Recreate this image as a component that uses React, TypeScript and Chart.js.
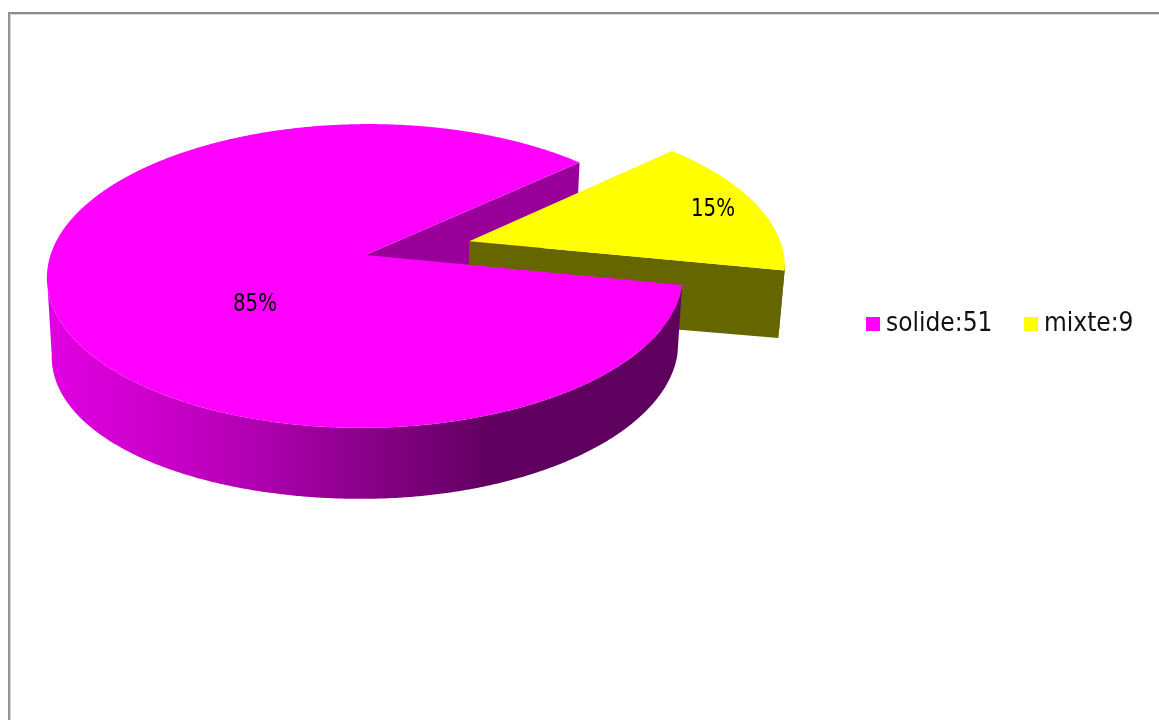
import React, { useEffect, useRef } from "react";
import { Chart, registerables } from "chart.js";

Chart.register(...registerables);

const categories = ["solide", "mixte"];
const counts = [51, 9];
const sliceColors = ["#ff00ff", "#ffff00"];
const cutFaceColors = ["#990099", "#666600"];
const percentLabels = ["85%", "15%"];
const FONT = '"DejaVu Sans Condensed", "DejaVu Sans", sans-serif';

// Perspective model of the tilted disc: the library supplies the slice angles,
// these constants turn them into screen positions.
const VIEW = {
  originX: 365.5,
  originY: 255,
  radius: 315,
  squash: 149,
  perspective: 0.138,
  shear: -0.012,
  depth: 71,
  leftSag: 8,
  rightEase: 2,
  taper: 0.015,
};

function project(wx: number, wy: number, wz: number) {
  const s = 1 / (1 - VIEW.perspective * wy);
  const t = 1 - VIEW.taper * wz;
  const sag = wx < 0 ? VIEW.leftSag * wx * wx : -VIEW.rightEase * wx * wx;
  return {
    x: VIEW.originX + VIEW.radius * (wx + VIEW.shear * wy) * s * t,
    y: VIEW.originY + VIEW.squash * wy * s + (VIEW.depth + sag) * wz,
  };
}

type Geometry = { start: number; end: number; ox: number; oy: number };

function rimPoints(g: Geometry, z: number, start = g.start, end = g.end) {
  const pts: { x: number; y: number }[] = [];
  const steps = Math.max(2, Math.ceil((end - start) / 0.006));
  for (let i = 0; i <= steps; i++) {
    const a = start + ((end - start) * i) / steps;
    pts.push(project(g.ox + Math.cos(a), g.oy + Math.sin(a), z));
  }
  return pts;
}

function fillPolygon(ctx: CanvasRenderingContext2D, pts: { x: number; y: number }[], fill: string | CanvasGradient) {
  ctx.beginPath();
  pts.forEach((p, i) => (i ? ctx.lineTo(p.x, p.y) : ctx.moveTo(p.x, p.y)));
  ctx.closePath();
  ctx.fillStyle = fill;
  ctx.fill();
}

function cutFace(ctx: CanvasRenderingContext2D, g: Geometry, angle: number, fill: string) {
  const ex = g.ox + Math.cos(angle);
  const ey = g.oy + Math.sin(angle);
  fillPolygon(
    ctx,
    [project(g.ox, g.oy, 0), project(ex, ey, 0), project(ex, ey, 1), project(g.ox, g.oy, 1)],
    fill,
  );
}

// Only the part of the rim that faces the viewer is drawn: it runs between the
// right and left silhouette points of the projected circle. Slice angles can
// run past a full turn, so both turns are tested.
function rimWall(ctx: CanvasRenderingContext2D, g: Geometry, fill: string | CanvasGradient) {
  const edge = Math.asin(VIEW.perspective);
  [0, 2 * Math.PI].forEach((turn) => {
    const start = Math.max(g.start, edge + turn);
    const end = Math.min(g.end, Math.PI - edge + turn);
    if (start < end) {
      fillPolygon(ctx, [...rimPoints(g, 0, start, end), ...rimPoints(g, 1, start, end).reverse()], fill);
    }
  });
}

function topFace(ctx: CanvasRenderingContext2D, g: Geometry, fill: string) {
  fillPolygon(ctx, [project(g.ox, g.oy, 0), ...rimPoints(g, 0)], fill);
}

const pie3d = {
  id: "pie3d",
  beforeDatasetsDraw(chart: any) {
    const ctx: CanvasRenderingContext2D = chart.ctx;
    const arcs = chart.getDatasetMeta(0).data;
    const geometry: Geometry[] = arcs.map((arc: any) => {
      const mid = (arc.startAngle + arc.endAngle) / 2;
      const pull = (arc.options.offset || 0) / arc.outerRadius;
      return { start: arc.startAngle, end: arc.endAngle, ox: Math.cos(mid) * pull, oy: Math.sin(mid) * pull };
    });

    const wall = ctx.createLinearGradient(46, 0, 682, 0);
    wall.addColorStop(0, "#e200e2");
    wall.addColorStop(0.25, "#c000c0");
    wall.addColorStop(0.5, "#8a008a");
    wall.addColorStop(0.7, "#600060");
    wall.addColorStop(1, "#5e005e");

    const [solid, mixed] = geometry;
    const colors = arcs.map((arc: any) => arc.options.backgroundColor);

    // Painter's order: the far cut of the large slice, the pulled-out slice, then the large slice.
    cutFace(ctx, solid, solid.end, cutFaceColors[0]);
    rimWall(ctx, mixed, cutFaceColors[1]);
    cutFace(ctx, mixed, mixed.end, cutFaceColors[1]);
    topFace(ctx, mixed, colors[1]);
    rimWall(ctx, solid, wall);
    topFace(ctx, solid, colors[0]);
    return false;
  },
  afterDraw(chart: any) {
    const ctx: CanvasRenderingContext2D = chart.ctx;
    const arcs = chart.getDatasetMeta(0).data;
    ctx.save();
    ctx.textBaseline = "middle";
    ctx.font = `25px ${FONT}`;
    ctx.textAlign = "center";
    ctx.fillStyle = "#000000";
    const anchors = [
      { x: 255, y: 304 },
      { x: 713, y: 209 },
    ];
    percentLabels.forEach((text, i) => {
      ctx.save();
      ctx.translate(anchors[i].x, anchors[i].y);
      ctx.scale(0.88, 1);
      ctx.fillText(text, 0, 0);
      ctx.restore();
    });

    // Legend row
    ctx.textAlign = "left";
    ctx.font = `26px ${FONT}`;
    const keys = [866, 1024];
    categories.forEach((name, i) => {
      ctx.fillStyle = arcs[i].options.backgroundColor;
      ctx.fillRect(keys[i], 317, 14, 14);
      ctx.fillStyle = "#111111";
      ctx.fillText(`${name}:${counts[i]}`, keys[i] + 20, 324);
    });
    ctx.restore();
  },
};

export default function App() {
  const canvasRef = useRef<HTMLCanvasElement | null>(null);

  useEffect(() => {
    const chart = new Chart(canvasRef.current as HTMLCanvasElement, {
      type: "pie",
      data: {
        labels: categories,
        datasets: [
          {
            data: counts,
            backgroundColor: sliceColors,
            borderWidth: 0,
            offset: [0, 106],
          },
        ],
      },
      options: {
        responsive: false,
        animation: false,
        rotation: 101.3,
        plugins: { legend: { display: false }, tooltip: { enabled: false } },
      },
      plugins: [pie3d],
    } as any);
    return () => chart.destroy();
  }, []);

  return (
    <div style={{ position: "fixed", left: 0, top: 0, width: 1159, height: 720, background: "#ffffff", overflow: "hidden" }}>
      <div
        style={{
          position: "absolute",
          left: 8,
          top: 12,
          width: 1151,
          height: 708,
          boxSizing: "border-box",
          borderLeft: "2px solid #949494",
          borderTop: "2px solid #8c8c8c",
          boxShadow: "inset 1px 1px 0 #d8d8d8",
        }}
      />
      <canvas ref={canvasRef} width={1159} height={720} style={{ position: "absolute", left: 0, top: 0, display: "block" }} />
    </div>
  );
}
